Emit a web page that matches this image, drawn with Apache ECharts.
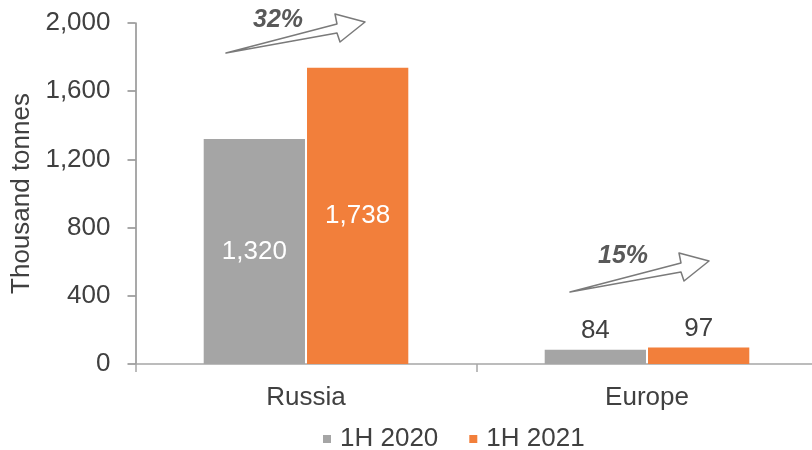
<!DOCTYPE html>
<html>
<head>
<meta charset="utf-8">
<script src="https://cdn.jsdelivr.net/npm/echarts@6/dist/echarts.min.js"></script>
<style>
  html, body { margin: 0; padding: 0; background: #ffffff; }
  #chart { width: 812px; height: 450px; }
</style>
</head>
<body>
<div id="chart"></div>
<script>
// Production by region, thousand tonnes
const regions = ['Russia', 'Europe'];
const seriesNames = ['1H 2020', '1H 2021'];
const values2020 = [1320, 84];
const values2021 = [1738, 97];
const growthLabels = ['32%', '15%'];
const yTicks = [0, 400, 800, 1200, 1600, 2000];

const GRAY = '#a5a5a5';
const ORANGE = '#f27f3b';
const TEXT = '#404040';
const FONT = '"Liberation Sans", Arial, sans-serif';
const FS = 26;

const chart = echarts.init(document.getElementById('chart'), null, { renderer: 'canvas' });

const fmt = v => v.toLocaleString('en-US');

function barLabel(inside) {
  return {
    show: true,
    position: inside ? 'inside' : 'top',
    distance: 6,
    color: inside ? '#ffffff' : TEXT,
    fontFamily: FONT,
    fontSize: FS,
    formatter: p => fmt(p.value)
  };
}

// Hollow "growth" arrow: thin tail widening into an open arrowhead
function arrowShape(x0, y0) {
  const pts = [
    [0, 0], [111, -29], [109, -39], [139, -31], [114, -11], [111, -20]
  ];
  return pts.map(p => [x0 + p[0], y0 + p[1]]);
}

function growthGraphics() {
  const out = [];
  const anchors = [
    { start: [226, 53], label: [278, 20] },
    { start: [570, 292], label: [623, 256] }
  ];
  anchors.forEach((a, i) => {
    out.push({
      type: 'polygon',
      shape: { points: arrowShape(a.start[0], a.start[1]) },
      style: { fill: '#ffffff', stroke: '#7a7a7a', lineWidth: 1.5, lineJoin: 'round' },
      z: 10
    });
    out.push({
      type: 'text',
      x: a.label[0],
      y: a.label[1],
      style: {
        text: growthLabels[i],
        fill: '#595959',
        font: 'italic bold 25px ' + FONT,
        align: 'center',
        verticalAlign: 'middle'
      },
      z: 11
    });
  });
  return out;
}

const option = {
  animation: false,
  backgroundColor: '#ffffff',
  textStyle: { fontFamily: FONT },
  grid: { left: 135.5, width: 682, top: 23, bottom: 86, outerBoundsMode: 'none' },
  legend: {
    top: 421,
    left: 318,
    itemWidth: 8,
    itemHeight: 8,
    itemGap: 31,
    icon: 'rect',
    textStyle: { color: TEXT, fontSize: FS, fontFamily: FONT, padding: [0, 0, 0, 4] },
    data: seriesNames
  },
  xAxis: {
    type: 'category',
    data: regions,
    axisLine: { lineStyle: { color: '#a6a6a6', width: 1.5 } },
    axisTick: { show: true, length: 8, lineStyle: { color: '#a6a6a6', width: 1.5 } },
    axisLabel: { color: TEXT, fontSize: FS, fontFamily: FONT, margin: 21 }
  },
  yAxis: {
    type: 'value',
    min: 0,
    max: 2000,
    interval: 400,
    name: 'Thousand tonnes',
    nameLocation: 'middle',
    nameRotate: 90,
    nameGap: 91,
    nameTextStyle: { color: TEXT, fontSize: FS, fontFamily: FONT },
    axisLine: { show: true, lineStyle: { color: '#8c8c8c', width: 1.5 } },
    axisTick: { show: true, length: 8, lineStyle: { color: '#8c8c8c', width: 1.5 } },
    splitLine: { show: false },
    axisLabel: {
      color: TEXT, fontSize: FS, fontFamily: FONT, margin: 25,
      formatter: v => yTicks.includes(v) ? fmt(v) : ''
    }
  },
  series: [
    {
      name: seriesNames[0],
      type: 'bar',
      data: values2020.map((v, i) => ({ value: v, label: barLabel(i === 0) })),
      itemStyle: { color: GRAY },
      barGap: '2%',
      barCategoryGap: '40%'
    },
    {
      name: seriesNames[1],
      type: 'bar',
      data: values2021.map((v, i) => ({ value: v, label: barLabel(i === 0) })),
      itemStyle: { color: ORANGE },
      barGap: '2%',
      barCategoryGap: '40%'
    }
  ],
  graphic: growthGraphics()
};

chart.setOption(option);
</script>
</body>
</html>
